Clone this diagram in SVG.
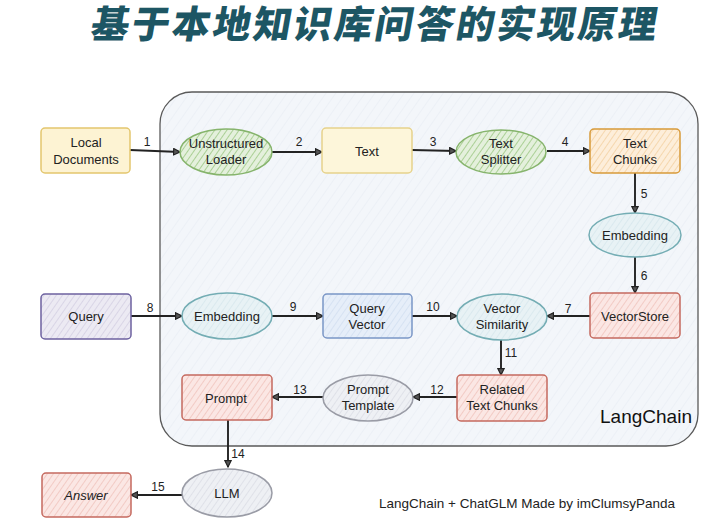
<svg xmlns="http://www.w3.org/2000/svg" width="726" height="524" viewBox="0 0 726 524">
<defs>
<style>
.t{font-family:"Liberation Sans","DejaVu Sans",sans-serif;font-size:13px;fill:#222;text-anchor:middle}
.n{font-family:"Liberation Sans","DejaVu Sans",sans-serif;font-size:12px;fill:#222;text-anchor:middle}
.c{fill:none;stroke:#222;stroke-width:1.9;marker-end:url(#ah)}
</style>
<marker id="ah" viewBox="0 0 10 10" refX="9" refY="5" markerWidth="8" markerHeight="8" markerUnits="userSpaceOnUse" orient="auto">
<path d="M1,1 L9,5 L1,9 Z" fill="#555" stroke="#222" stroke-width="1.5"/>
</marker>
<pattern id="hG" width="5" height="5" patternUnits="userSpaceOnUse" patternTransform="rotate(35)"><rect width="5" height="5" fill="#e4f0dc"/><line x1="0" y1="0" x2="0" y2="5" stroke="#8cbf70" stroke-width="1.3"/></pattern>
<pattern id="hO" width="5" height="5" patternUnits="userSpaceOnUse" patternTransform="rotate(35)"><rect width="5" height="5" fill="#fdeeda"/><line x1="0" y1="0" x2="0" y2="5" stroke="#f3d0a0" stroke-width="1.5"/></pattern>
<pattern id="hR" width="5" height="5" patternUnits="userSpaceOnUse" patternTransform="rotate(35)"><rect width="5" height="5" fill="#fbe7e4"/><line x1="0" y1="0" x2="0" y2="5" stroke="#f0c2bb" stroke-width="1.5"/></pattern>
<pattern id="hP" width="5" height="5" patternUnits="userSpaceOnUse" patternTransform="rotate(35)"><rect width="5" height="5" fill="#eceaf3"/><line x1="0" y1="0" x2="0" y2="5" stroke="#d3cfe2" stroke-width="1.5"/></pattern>
<pattern id="hB" width="5" height="5" patternUnits="userSpaceOnUse" patternTransform="rotate(35)"><rect width="5" height="5" fill="#e6eef9"/><line x1="0" y1="0" x2="0" y2="5" stroke="#d1def0" stroke-width="1.5"/></pattern>
<pattern id="hC" width="5" height="5" patternUnits="userSpaceOnUse" patternTransform="rotate(35)"><rect width="5" height="5" fill="#e8f2f5"/><line x1="0" y1="0" x2="0" y2="5" stroke="#d6e6ec" stroke-width="1.5"/></pattern>
<pattern id="hGr" width="5" height="5" patternUnits="userSpaceOnUse" patternTransform="rotate(35)"><rect width="5" height="5" fill="#eef0f4"/><line x1="0" y1="0" x2="0" y2="5" stroke="#dadde4" stroke-width="1.5"/></pattern>
<pattern id="hBg" width="8" height="8" patternUnits="userSpaceOnUse" patternTransform="rotate(35)"><rect width="8" height="8" fill="#f3f6fa"/><line x1="0" y1="0" x2="0" y2="8" stroke="#eaeff5" stroke-width="1.5"/></pattern>
</defs>
<rect width="726" height="524" fill="#ffffff"/>

<g id="title">
<text x="374" y="38" text-anchor="middle" font-family="'Noto Sans CJK SC','Noto Sans CJK JP',sans-serif" font-weight="900" font-size="38" letter-spacing="2.6" fill="#1d5664" stroke="#ffffff" stroke-width="1" paint-order="stroke" transform="skewX(-10) translate(6,0)">基于本地知识库问答的实现原理</text>
</g>

<g id="langchain-container">
<rect x="160" y="92" width="538" height="354" rx="32" fill="url(#hBg)" stroke="#5a5a5a" stroke-width="1.3"/>
<text x="646" y="423" font-family="'Liberation Sans','DejaVu Sans',sans-serif" font-size="19" fill="#111" text-anchor="middle">LangChain</text>
</g>

<g id="connectors">
<path class="c" d="M130,150 L180,152"/>
<path class="c" d="M272,152 L322,152"/>
<path class="c" d="M412,150 L456,151"/>
<path class="c" d="M547,151 L590,151"/>
<path class="c" d="M635,173 L635,213"/>
<path class="c" d="M635,257 L635,293"/>
<path class="c" d="M590,316 L547,316"/>
<path class="c" d="M131,316 L182,316"/>
<path class="c" d="M272,316 L323,316"/>
<path class="c" d="M412,316 L457,316"/>
<path class="c" d="M501,340 L501,375"/>
<path class="c" d="M457,397 L413,397"/>
<path class="c" d="M323,397 L272,397"/>
<path class="c" d="M228,420 L228,467"/>
<path class="c" d="M182,495 L131,495"/>
<text class="n" x="147" y="146">1</text>
<text class="n" x="299" y="146">2</text>
<text class="n" x="433" y="146">3</text>
<text class="n" x="565" y="146">4</text>
<text class="n" x="644" y="198">5</text>
<text class="n" x="644" y="280">6</text>
<text class="n" x="568" y="313">7</text>
<text class="n" x="150" y="312">8</text>
<text class="n" x="293" y="311">9</text>
<text class="n" x="433" y="311">10</text>
<text class="n" x="511" y="357">11</text>
<text class="n" x="437" y="394">12</text>
<text class="n" x="300" y="394">13</text>
<text class="n" x="238" y="458">14</text>
<text class="n" x="158" y="491">15</text>
</g>

<g id="local-documents">
<rect x="41" y="128" width="89" height="45" rx="4" fill="#fdf3d3" stroke="#e3c66e" stroke-width="1.5"/>
<text class="t" x="86" y="147">Local</text>
<text class="t" x="86" y="164">Documents</text>
</g>
<g id="unstructured-loader">
<ellipse cx="226" cy="152" rx="46" ry="23" fill="url(#hG)" stroke="#86b46c" stroke-width="1.5"/>
<text class="t" x="226" y="148">Unstructured</text>
<text class="t" x="226" y="164">Loader</text>
</g>
<g id="text">
<rect x="322" y="128" width="90" height="45" rx="4" fill="#fdf6da" stroke="#e6d28c" stroke-width="1.5"/>
<text class="t" x="367" y="156">Text</text>
</g>
<g id="text-splitter">
<ellipse cx="501" cy="152" rx="45" ry="22" fill="url(#hG)" stroke="#86b46c" stroke-width="1.5"/>
<text class="t" x="501" y="148">Text</text>
<text class="t" x="501" y="164">Splitter</text>
</g>
<g id="text-chunks">
<rect x="590" y="129" width="90" height="44" rx="4" fill="url(#hO)" stroke="#d89a3a" stroke-width="1.5"/>
<text class="t" x="635" y="148">Text</text>
<text class="t" x="635" y="164">Chunks</text>
</g>
<g id="embedding-doc">
<ellipse cx="635" cy="235" rx="46" ry="22" fill="url(#hC)" stroke="#74adb4" stroke-width="1.5"/>
<text class="t" x="635" y="240">Embedding</text>
</g>
<g id="vectorstore">
<rect x="590" y="293" width="90" height="45" rx="4" fill="url(#hR)" stroke="#c56a5f" stroke-width="1.5"/>
<text class="t" x="635" y="321">VectorStore</text>
</g>
<g id="vector-similarity">
<ellipse cx="502" cy="317" rx="45" ry="23" fill="url(#hC)" stroke="#74adb4" stroke-width="1.5"/>
<text class="t" x="502" y="313">Vector</text>
<text class="t" x="502" y="329">Similarity</text>
</g>
<g id="query">
<rect x="41" y="294" width="90" height="45" rx="4" fill="url(#hP)" stroke="#6d62a0" stroke-width="1.5"/>
<text class="t" x="86" y="321">Query</text>
</g>
<g id="embedding-query">
<ellipse cx="227" cy="316" rx="45" ry="23" fill="url(#hC)" stroke="#74adb4" stroke-width="1.5"/>
<text class="t" x="227" y="321">Embedding</text>
</g>
<g id="query-vector">
<rect x="323" y="294" width="89" height="44" rx="4" fill="url(#hB)" stroke="#7a96c6" stroke-width="1.5"/>
<text class="t" x="367" y="313">Query</text>
<text class="t" x="367" y="329">Vector</text>
</g>
<g id="prompt">
<rect x="182" y="375" width="90" height="45" rx="4" fill="url(#hR)" stroke="#c56a5f" stroke-width="1.5"/>
<text class="t" x="226" y="403">Prompt</text>
</g>
<g id="prompt-template">
<ellipse cx="368" cy="398" rx="45" ry="23" fill="url(#hGr)" stroke="#9a9ca6" stroke-width="1.5"/>
<text class="t" x="368" y="394">Prompt</text>
<text class="t" x="368" y="410">Template</text>
</g>
<g id="related-text-chunks">
<rect x="457" y="375" width="90" height="46" rx="4" fill="url(#hR)" stroke="#c56a5f" stroke-width="1.5"/>
<text class="t" x="502" y="394">Related</text>
<text class="t" x="502" y="410">Text Chunks</text>
</g>
<g id="llm">
<ellipse cx="227" cy="493" rx="45" ry="24" fill="url(#hGr)" stroke="#9a9ca6" stroke-width="1.5"/>
<text class="t" x="227" y="498">LLM</text>
</g>
<g id="answer">
<rect x="42" y="473" width="89" height="44" rx="4" fill="url(#hR)" stroke="#c56a5f" stroke-width="1.5"/>
<text class="t" x="86" y="500" font-style="italic">Answer</text>
</g>

<g id="footer">
<text x="527" y="508" text-anchor="middle" font-family="'Liberation Sans','DejaVu Sans',sans-serif" font-size="13.5" fill="#222">LangChain + ChatGLM Made by imClumsyPanda</text>
</g>
</svg>
